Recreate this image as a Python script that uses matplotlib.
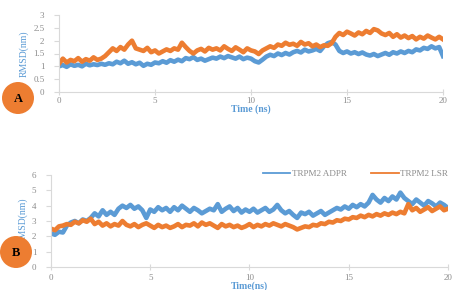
import numpy as np
import matplotlib
matplotlib.use("Agg")
import matplotlib.pyplot as plt
from matplotlib.patches import Ellipse

# ---------------- data ----------------
time_ns = [round(i * 0.2, 1) for i in range(101)]

a_adpr = [1.00, 1.05, 0.98, 1.08, 1.02, 1.06, 1.00, 1.10, 1.04, 1.08, 1.05,
          1.10, 1.06, 1.12, 1.08, 1.18, 1.12, 1.22, 1.10, 1.16, 1.08,
          1.14, 1.02, 1.10, 1.06, 1.15, 1.12, 1.20, 1.14, 1.24, 1.18,
          1.26, 1.20, 1.32, 1.28, 1.36, 1.25, 1.30, 1.22, 1.28, 1.34,
          1.30, 1.38, 1.32, 1.40, 1.35, 1.30, 1.38, 1.28, 1.34, 1.30,
          1.20, 1.15, 1.26, 1.38, 1.45, 1.40, 1.50, 1.44, 1.52, 1.46,
          1.55, 1.60, 1.54, 1.65, 1.58, 1.62, 1.68, 1.60, 1.78, 1.90,
          1.95, 1.85, 1.60, 1.52, 1.58, 1.50, 1.55, 1.48, 1.54, 1.46,
          1.42, 1.48, 1.40, 1.46, 1.52, 1.45, 1.55, 1.50, 1.58, 1.52,
          1.60, 1.55, 1.66, 1.62, 1.72, 1.68, 1.78, 1.70, 1.75, 1.40]

a_lsr = [1.10, 1.30, 1.15, 1.25, 1.20, 1.32, 1.18, 1.28, 1.22, 1.35, 1.25,
         1.30, 1.40, 1.55, 1.70, 1.60, 1.75, 1.65, 1.85, 2.00, 1.70,
         1.65, 1.60, 1.72, 1.55, 1.62, 1.50, 1.58, 1.66, 1.60, 1.70,
         1.65, 1.92, 1.75, 1.60, 1.50, 1.62, 1.68, 1.58, 1.72, 1.65,
         1.70, 1.62, 1.78, 1.68, 1.60, 1.74, 1.65, 1.55, 1.70, 1.62,
         1.58, 1.48, 1.62, 1.70, 1.78, 1.72, 1.85, 1.80, 1.92, 1.84,
         1.88, 1.80, 1.95, 1.85, 1.90, 1.78, 1.85, 1.75, 1.82, 1.80,
         1.90, 2.15, 2.30, 2.22, 2.35, 2.28, 2.20, 2.32, 2.25, 2.38,
         2.30, 2.45, 2.40, 2.28, 2.22, 2.30, 2.15, 2.25, 2.12, 2.20,
         2.10, 2.18, 2.05, 2.15, 2.08, 2.20, 2.12, 2.05, 2.15, 2.05]

b_adpr = [2.20, 2.10, 2.30, 2.25, 2.70, 2.90, 3.00, 2.85, 3.10, 3.00, 3.20,
          3.50, 3.30, 3.70, 3.40, 3.60, 3.40, 3.80, 4.00, 3.85, 4.05,
          3.80, 3.95, 3.70, 3.20, 3.75, 3.60, 3.90, 3.70, 3.85, 3.60,
          3.90, 3.70, 4.00, 3.80, 3.60, 3.85, 3.70, 3.50, 3.65, 3.80,
          3.70, 4.10, 3.60, 3.80, 3.95, 3.65, 3.85, 3.55, 3.75, 3.60,
          3.80, 3.55, 3.70, 3.85, 3.60, 3.75, 4.05, 3.70, 3.50, 3.65,
          3.40, 3.20, 3.55, 3.45, 3.60, 3.35, 3.50, 3.65, 3.40, 3.55,
          3.70, 3.85, 3.75, 3.95, 3.80, 4.05, 3.90, 4.10, 3.95, 4.20,
          4.70, 4.40, 4.20, 4.50, 4.30, 4.60, 4.40, 4.85, 4.50, 4.30,
          4.10, 4.40, 4.20, 4.00, 4.30, 4.15, 3.95, 4.20, 4.05, 3.85]

b_lsr = [2.50, 2.40, 2.65, 2.70, 2.80, 2.75, 2.95, 2.85, 3.05, 2.95, 3.15,
         2.80, 2.95, 2.70, 2.85, 2.65, 2.80, 2.70, 3.00, 2.75, 2.65,
         2.80, 2.60, 2.75, 2.85, 2.70, 2.55, 2.75, 2.60, 2.70, 2.55,
         2.65, 2.80, 2.60, 2.75, 2.70, 2.85, 2.65, 2.90, 2.75, 2.85,
         2.70, 2.55, 2.80, 2.65, 2.75, 2.60, 2.70, 2.55, 2.65, 2.80,
         2.60, 2.75, 2.65, 2.80, 2.70, 2.85, 2.75, 2.65, 2.80, 2.70,
         2.60, 2.45, 2.55, 2.65, 2.60, 2.75, 2.70, 2.85, 2.80, 2.95,
         2.90, 3.05, 3.00, 3.15, 3.10, 3.25, 3.20, 3.35, 3.25, 3.40,
         3.30, 3.45, 3.35, 3.50, 3.40, 3.55, 3.45, 3.60, 3.50, 4.10,
         3.70, 3.85, 3.60, 3.75, 3.90, 3.65, 3.80, 3.95, 3.70, 3.80]

series_names = ["TRPM2 ADPR", "TRPM2 LSR"]
a_yticks = [0, 0.5, 1, 1.5, 2, 2.5, 3]
a_yticklabels = ["0", "0.5", "1", "1.5", "2", "2.5", "3"]
b_yticks = [0, 1, 2, 3, 4, 5, 6]
x_ticks = [0, 5, 10, 15, 20]

# ---------------- style ----------------
BLUE = "#5B9BD5"
ORANGE = "#ED7D31"
GRAY = "#8C8C8C"
SPINE = "#D9D9D9"
SERIF = ["Liberation Serif", "DejaVu Serif"]
LW = 3.3

W, H = 456, 290
fig = plt.figure(figsize=(W / 100, H / 100), dpi=100)


def fbox(x0, y0, x1, y1):
    return [x0 / W, 1 - y1 / H, (x1 - x0) / W, (y1 - y0) / H]


def style_axes(ax, ylim, yticks, yticklabels):
    ax.set_xlim(0, 20)
    ax.set_ylim(*ylim)
    for s in ["top", "right"]:
        ax.spines[s].set_visible(False)
    for s in ["left", "bottom"]:
        ax.spines[s].set_color(SPINE)
        ax.spines[s].set_linewidth(0.8)
    ax.set_xticks(x_ticks)
    ax.set_yticks(yticks)
    ax.set_yticklabels(yticklabels)
    ax.tick_params(axis="y", direction="out", length=3.5, width=0.8, color=SPINE,
                   labelsize=6.5, labelcolor=GRAY, pad=7)
    ax.tick_params(axis="x", direction="inout", length=4, width=0.8, color=SPINE,
                   labelsize=6.5, labelcolor=GRAY, pad=1.5)
    for lab in ax.get_xticklabels() + ax.get_yticklabels():
        lab.set_family(SERIF)


# Panel A
axA = fig.add_axes(fbox(59, 15, 443, 92))
axA.plot(time_ns, a_adpr, color=BLUE, lw=LW)
axA.plot(time_ns, a_lsr, color=ORANGE, lw=LW)
style_axes(axA, (0, 3), a_yticks, a_yticklabels)
axA.set_xlabel("Time (ns)", color=BLUE, fontsize=7, fontweight="bold",
               family=SERIF, labelpad=-0.5)
axA.set_ylabel("RMSD(nm)", color=BLUE, fontsize=7, family=SERIF, labelpad=3)

# Panel B
axB = fig.add_axes(fbox(51, 175, 448, 267))
lb1, = axB.plot(time_ns, b_adpr, color=BLUE, lw=LW)
lb2, = axB.plot(time_ns, b_lsr, color=ORANGE, lw=LW)
style_axes(axB, (0, 6), b_yticks, [str(v) for v in b_yticks])
axB.tick_params(axis="x", pad=3)
axB.set_xlabel("Time(ns)", color=BLUE, fontsize=7, fontweight="bold",
               family=SERIF, labelpad=-0.5)
axB.set_ylabel("RMSD(nm)", color=BLUE, fontsize=7, family=SERIF, labelpad=3)

leg = axB.legend([lb1, lb2], series_names, loc="center left",
                 bbox_to_anchor=(263 / W, 1 - 174 / H),
                 bbox_transform=fig.transFigure, ncol=2, frameon=False,
                 handlelength=3.0, handletextpad=0.2,
                 columnspacing=2.6, borderpad=0, borderaxespad=0,
                 prop={"family": SERIF, "size": 6.6})
for t in leg.get_texts():
    t.set_color(GRAY)
for h in leg.get_lines():
    h.set_linewidth(1.3)

# Panel letters
for (cx, cy, letter) in [(18, 98, "A"), (16, 252, "B")]:
    e = Ellipse((cx / W, 1 - cy / H), 32 / W, 32 / H, transform=fig.transFigure,
                facecolor=ORANGE, edgecolor="none", zorder=5)
    fig.patches.append(e)
    fig.text(cx / W, 1 - (cy + 1) / H, letter, ha="center", va="center",
             fontsize=9, fontweight="bold", family=SERIF, color="black", zorder=6)

fig.savefig("out.png", dpi=100)
